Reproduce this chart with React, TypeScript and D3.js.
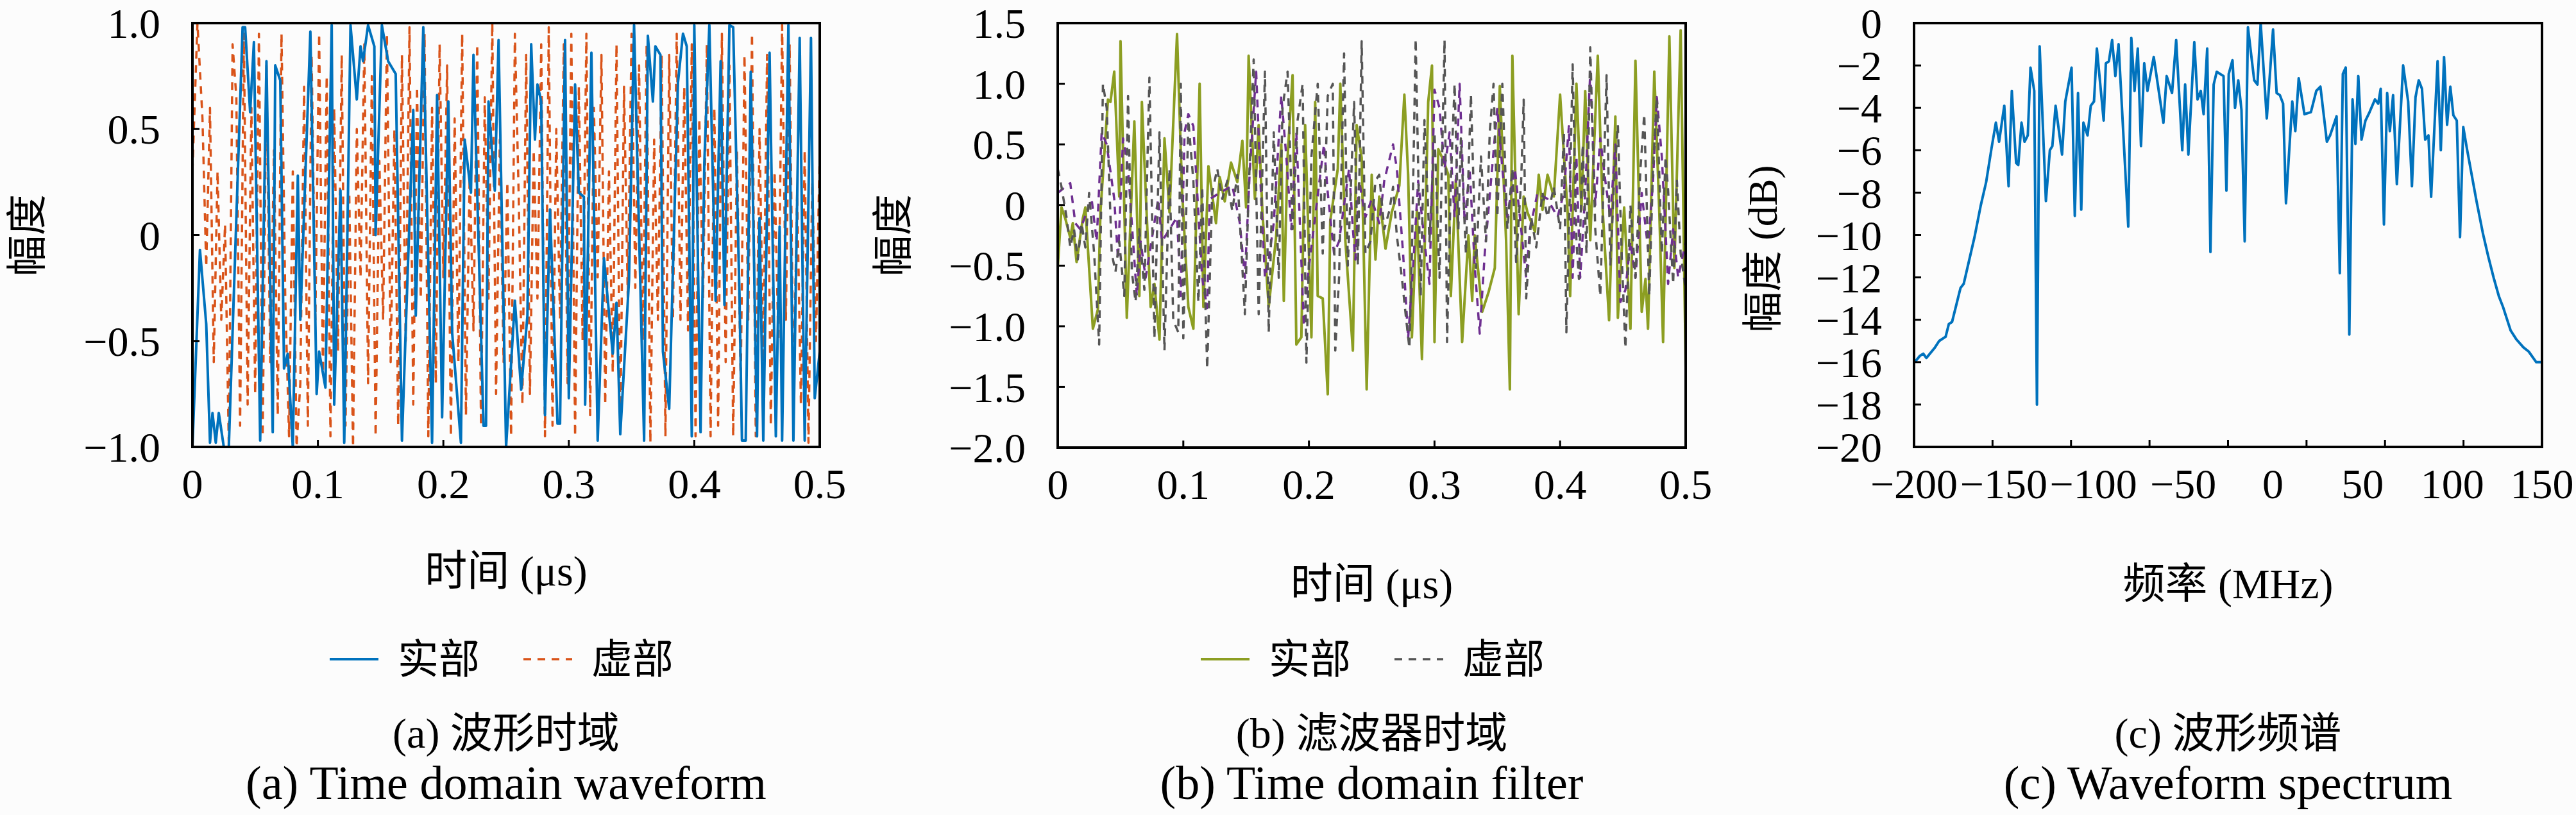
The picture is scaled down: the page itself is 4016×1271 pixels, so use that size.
import * as d3 from 'd3';

type Pt = [number, number];

// (a) 波形时域: time (μs), amplitude
const waveReal: Pt[] = [
  [0, -1.0], [0.006, -0.07], [0.011, -0.42], [0.014, -0.98], [0.016, -0.84], [0.0186, -0.98], [0.021, -0.84],
  [0.025, -1.0], [0.029, -1.0], [0.04, 0.98], [0.042, 0.98], [0.046, 0.58], [0.049, 0.91], [0.054, -0.97],
  [0.059, 0.82], [0.064, -0.93], [0.066, 0.8], [0.07, 0.73], [0.073, -0.63], [0.076, -0.56], [0.08, -1.0],
  [0.084, 0.28], [0.086, -0.4], [0.094, 0.96], [0.099, -0.75], [0.101, -0.55], [0.106, -0.72], [0.111, 0.99],
  [0.113, -0.8], [0.118, 0.21], [0.121, -0.98], [0.126, 0.99], [0.131, 0.64], [0.134, 0.89], [0.136, 0.82],
  [0.14, 0.99], [0.145, 0.89], [0.146, 0.0], [0.151, 0.99], [0.156, 0.82], [0.162, 0.76], [0.167, -0.97],
  [0.176, 0.59], [0.178, -0.38], [0.184, 0.98], [0.191, -0.98], [0.195, 0.66], [0.199, -0.86], [0.204, 0.63],
  [0.207, -0.46], [0.214, -0.98], [0.217, 0.45], [0.222, 0.2], [0.224, 0.85], [0.232, -0.9], [0.234, -0.9],
  [0.236, 0.63], [0.241, 0.21], [0.244, 0.92], [0.25, -1.0], [0.257, -0.31], [0.262, -0.73], [0.267, -0.38],
  [0.27, 0.9], [0.273, 0.45], [0.275, 0.71], [0.278, 0.63], [0.281, -0.85], [0.285, 0.12], [0.291, -0.89],
  [0.293, -0.89], [0.297, 0.92], [0.3, -0.77], [0.305, 0.71], [0.308, 0.2], [0.312, 0.18], [0.313, -0.8],
  [0.318, 0.86], [0.323, -0.97], [0.328, -0.11], [0.335, -0.56], [0.338, -0.32], [0.341, -0.94], [0.348, -0.21],
  [0.352, 0.99], [0.36, -0.97], [0.363, 0.94], [0.367, 0.63], [0.369, 0.89], [0.373, 0.85], [0.375, -0.55],
  [0.38, -0.82], [0.387, 0.72], [0.391, 0.95], [0.394, 0.89], [0.398, -0.95], [0.4, 0.99], [0.405, -0.93],
  [0.408, 0.34], [0.412, 0.99], [0.417, -0.31], [0.421, 0.82], [0.424, -0.33], [0.428, 0.99], [0.431, 0.98],
  [0.436, -0.28], [0.438, -0.97], [0.441, -0.97], [0.445, 0.77], [0.45, -0.95], [0.452, 0.08], [0.455, -0.97],
  [0.46, 0.86], [0.465, -0.95], [0.468, 0.04], [0.47, -0.97], [0.475, 0.99], [0.479, -0.97], [0.484, 0.93],
  [0.488, -0.97], [0.493, 0.93], [0.496, -0.77], [0.5, -0.55],
];

const waveImag: Pt[] = [
  [0, 0.3], [0.004, 1.0], [0.008, 0.55], [0.011, -0.15], [0.014, 0.6], [0.017, -0.6], [0.02, 0.3], [0.023, -0.4],
  [0.026, 0.05], [0.029, -1.0], [0.032, 0.9], [0.035, 0.65], [0.038, -0.9], [0.041, 0.95], [0.044, -0.8],
  [0.047, 0.6], [0.05, -0.75], [0.053, 0.95], [0.056, -0.95], [0.059, 0.8], [0.062, -0.6], [0.065, 0.4],
  [0.068, -0.85], [0.071, 0.95], [0.074, -0.3], [0.077, -0.95], [0.08, 0.3], [0.083, -1.0], [0.086, -0.7],
  [0.089, 0.7], [0.092, -0.9], [0.095, 0.85], [0.098, -0.4], [0.101, 0.95], [0.104, -0.65], [0.107, 0.75],
  [0.11, -0.95], [0.113, 0.6], [0.116, -0.55], [0.119, 0.85], [0.122, -0.9], [0.125, 0.2], [0.128, -1.0],
  [0.131, 0.5], [0.134, -0.2], [0.137, 0.9], [0.14, -0.7], [0.143, 0.75], [0.146, -0.95], [0.149, 0.35],
  [0.152, -0.4], [0.155, 0.95], [0.158, -0.6], [0.161, 0.5], [0.164, -0.9], [0.167, 0.85], [0.17, -0.5],
  [0.173, 0.98], [0.176, -0.8], [0.179, 0.7], [0.182, -0.3], [0.185, 0.95], [0.188, -0.95], [0.191, 0.6],
  [0.194, -0.7], [0.197, 0.9], [0.2, -0.2], [0.203, 0.8], [0.206, -0.95], [0.209, 0.55], [0.212, -0.6],
  [0.215, 0.95], [0.218, -0.85], [0.221, 0.3], [0.224, -0.45], [0.227, 0.9], [0.23, -0.9], [0.233, 0.65],
  [0.236, -0.3], [0.239, 1.0], [0.242, -0.75], [0.245, 0.45], [0.248, -0.6], [0.251, 0.25], [0.254, -0.95],
  [0.257, 0.95], [0.26, 0.2], [0.263, -0.8], [0.266, 0.85], [0.269, -0.75], [0.272, 0.4], [0.275, -0.3],
  [0.278, 0.9], [0.281, -0.95], [0.284, 0.98], [0.287, -0.9], [0.29, 0.5], [0.293, -0.4], [0.296, 0.9],
  [0.299, -0.7], [0.302, 0.95], [0.305, -0.95], [0.308, 0.7], [0.311, -0.5], [0.314, 0.95], [0.317, -0.85],
  [0.32, 0.6], [0.323, -0.2], [0.326, 0.85], [0.329, -0.8], [0.332, 0.3], [0.335, -0.65], [0.338, 0.9],
  [0.341, -0.95], [0.344, 0.7], [0.347, -0.3], [0.35, 0.95], [0.353, -0.25], [0.356, 0.8], [0.359, -0.5],
  [0.362, 0.9], [0.365, -0.98], [0.368, 0.45], [0.371, -0.4], [0.374, 0.85], [0.377, -0.95], [0.38, 0.85],
  [0.383, -0.4], [0.386, 0.95], [0.389, -0.4], [0.392, 0.7], [0.395, -0.45], [0.398, 0.9], [0.401, -0.95],
  [0.404, 0.55], [0.407, -0.3], [0.41, 0.9], [0.413, -0.95], [0.416, 0.6], [0.419, -0.9], [0.422, 0.95],
  [0.425, -0.6], [0.428, 0.8], [0.431, -0.95], [0.434, 0.4], [0.437, -0.7], [0.44, 0.85], [0.443, -0.4],
  [0.446, 0.95], [0.449, -0.95], [0.452, 0.5], [0.455, -0.6], [0.458, 0.85], [0.461, -0.9], [0.464, 0.3],
  [0.467, -0.5], [0.47, 0.99], [0.473, -0.4], [0.476, 0.9], [0.479, -0.75], [0.482, 0.2], [0.485, -0.8],
  [0.488, 0.4], [0.491, -0.98], [0.494, 0.25], [0.497, -0.5], [0.5, 0.4],
];

// (b) 滤波器时域
const filterReal: Pt[] = [
  [0, -0.52], [0.003, -0.02], [0.006, -0.11], [0.01, -0.27], [0.012, -0.15], [0.015, -0.47], [0.02, -0.11],
  [0.022, -0.02], [0.028, -1.02], [0.032, -0.86], [0.034, -0.06], [0.04, 0.87], [0.042, 0.85], [0.045, 1.1],
  [0.049, 0.07], [0.05, 1.35], [0.055, -0.93], [0.061, 0.69], [0.065, -0.75], [0.067, 0.85], [0.074, -0.84],
  [0.077, -0.65], [0.081, -1.11], [0.085, 0.55], [0.089, -0.06], [0.095, 1.41], [0.099, 0.12], [0.104, -0.84],
  [0.108, -1.02], [0.113, 1.0], [0.116, -0.84], [0.12, 0.32], [0.126, -0.15], [0.129, 0.23], [0.133, 0.03],
  [0.138, 0.35], [0.143, 0.19], [0.147, 0.53], [0.15, -0.02], [0.152, 1.23], [0.157, 0.05], [0.16, 0.66],
  [0.163, -0.06], [0.168, -0.84], [0.174, -0.25], [0.178, 0.5], [0.18, -0.79], [0.183, 0.39], [0.187, 1.07],
  [0.19, -1.15], [0.194, -1.09], [0.197, 0.66], [0.202, -1.09], [0.205, 0.85], [0.207, -0.75], [0.211, -0.77],
  [0.215, -1.56], [0.217, -0.13], [0.223, 0.3], [0.225, 1.0], [0.229, -0.29], [0.235, -1.2], [0.238, 0.66],
  [0.242, 0.39], [0.246, -1.52], [0.25, 0.25], [0.253, -0.45], [0.256, 0.07], [0.261, -0.36], [0.266, -0.06],
  [0.272, 0.16], [0.276, 0.91], [0.279, 0.25], [0.282, -1.09], [0.286, -0.04], [0.29, -1.27], [0.295, 0.85],
  [0.298, 1.15], [0.3, -1.13], [0.303, 0.46], [0.307, 0.37], [0.311, 0.25], [0.313, -0.75], [0.317, 0.21],
  [0.322, -1.13], [0.327, -0.25], [0.33, -0.79], [0.332, -0.25], [0.338, -0.88], [0.343, -0.72], [0.348, -0.52],
  [0.352, 0.98], [0.357, -0.29], [0.36, -1.52], [0.362, 1.23], [0.367, -0.9], [0.371, 0.07], [0.374, -0.06],
  [0.38, -0.22], [0.383, 0.25], [0.386, -0.04], [0.39, 0.25], [0.395, 0.07], [0.4, 0.91], [0.406, -0.06],
  [0.408, -0.75], [0.413, 1.0], [0.417, -0.04], [0.42, 0.94], [0.424, -0.29], [0.43, 1.23], [0.434, -0.06],
  [0.439, -0.95], [0.444, 0.73], [0.446, -0.93], [0.451, -0.02], [0.456, -1.02], [0.46, 1.19], [0.465, -0.88],
  [0.468, -0.61], [0.47, -1.02], [0.475, 1.1], [0.479, -0.06], [0.482, -1.13], [0.487, 1.39], [0.491, -0.52],
  [0.496, 1.44], [0.5, -1.34],
];

const filterImag: Pt[] = [
  [0, 0.3], [0.003, 0.15], [0.007, -0.1], [0.01, -0.35], [0.013, -0.2], [0.016, -0.45], [0.019, -0.15],
  [0.022, -0.35], [0.025, 0.1], [0.029, -0.4], [0.033, -1.15], [0.036, 1.0], [0.039, 0.8], [0.043, -0.4],
  [0.046, -0.55], [0.049, -0.3], [0.053, -0.75], [0.056, 0.9], [0.059, -0.55], [0.062, -0.8], [0.065, -0.2],
  [0.069, -0.7], [0.073, 1.05], [0.077, -1.1], [0.081, 0.6], [0.085, -1.2], [0.089, 0.3], [0.092, -0.95],
  [0.096, -1.05], [0.098, 1.0], [0.1, -1.1], [0.104, 0.7], [0.108, 0.2], [0.112, -0.8], [0.115, 0.15],
  [0.119, -1.35], [0.123, 0.1], [0.127, 0.3], [0.131, 0.05], [0.135, 0.2], [0.139, -0.05], [0.143, 0.25],
  [0.149, -0.9], [0.152, 0.1], [0.156, 1.2], [0.16, -0.9], [0.165, 1.1], [0.168, -1.05], [0.172, 0.6],
  [0.176, -0.6], [0.179, 0.8], [0.183, 1.1], [0.187, -0.2], [0.191, 0.7], [0.195, 1.0], [0.198, -1.3],
  [0.202, 0.4], [0.207, 1.0], [0.211, -0.4], [0.215, 0.9], [0.219, 1.0], [0.221, -1.2], [0.224, -0.6],
  [0.228, 1.25], [0.231, -0.5], [0.236, 0.85], [0.239, -0.5], [0.242, 1.35], [0.245, -0.4], [0.249, -0.3],
  [0.253, 0.2], [0.256, 0.25], [0.26, -0.2], [0.264, -0.05], [0.267, 0.15], [0.27, -0.25], [0.274, -0.6],
  [0.277, -0.9], [0.28, -1.18], [0.282, -0.4], [0.285, 1.37], [0.289, -0.75], [0.292, 0.7], [0.296, -0.3],
  [0.3, 0.6], [0.304, -0.6], [0.308, 1.36], [0.31, -1.13], [0.313, 0.2], [0.316, 1.0], [0.319, -0.2],
  [0.321, 0.55], [0.325, -0.4], [0.329, 0.91], [0.333, -0.52], [0.337, 0.4], [0.341, -0.3], [0.344, 0.6],
  [0.347, 1.0], [0.35, -0.1], [0.354, 1.0], [0.358, -0.2], [0.362, 0.3], [0.365, -0.47], [0.369, 0.2],
  [0.371, 0.87], [0.373, -0.77], [0.377, -0.1], [0.381, -0.35], [0.386, 0.1], [0.39, -0.1], [0.395, 0.15],
  [0.4, -0.2], [0.403, 0.6], [0.405, -1.05], [0.408, 0.2], [0.41, 1.16], [0.413, -0.3], [0.415, -0.61],
  [0.418, 0.5], [0.421, -0.4], [0.424, 1.3], [0.428, -0.2], [0.432, -0.75], [0.437, 1.07], [0.44, -0.5],
  [0.443, 0.2], [0.446, 0.66], [0.449, -0.4], [0.452, -1.18], [0.456, 0.0], [0.46, -0.6], [0.464, 0.3],
  [0.467, 0.75], [0.471, -0.75], [0.474, 0.3], [0.477, 0.89], [0.481, -0.4], [0.484, 0.4], [0.486, 0.12],
  [0.49, -0.65], [0.493, 0.2], [0.496, -0.4], [0.5, -0.7],
];

const filterImagB: Pt[] = [
  [0, 0.1], [0.01, 0.18], [0.014, -0.15], [0.018, -0.2], [0.027, 0.05], [0.031, -0.3], [0.035, 0.6],
  [0.039, 0.5], [0.045, 0.05], [0.048, -0.45], [0.052, 0.55], [0.056, 0.3], [0.063, -0.75], [0.066, -0.3],
  [0.07, -0.6], [0.08, 0.05], [0.083, -0.3], [0.095, -0.1], [0.098, -0.75], [0.101, 0.6], [0.104, 0.75],
  [0.108, 0.65], [0.115, -0.6], [0.119, -0.85], [0.121, 0.05], [0.139, 0.16], [0.145, -0.15], [0.149, -0.6],
  [0.153, 0.3], [0.158, 1.1], [0.162, 0.05], [0.165, -0.6], [0.168, -0.45], [0.172, -0.15], [0.178, 0.9],
  [0.182, 0.4], [0.186, -0.2], [0.19, 0.6], [0.196, -1.0], [0.199, -0.6], [0.212, 0.5], [0.215, 0.1],
  [0.22, -0.4], [0.224, -0.3], [0.232, 0.3], [0.235, -0.2], [0.237, -0.45], [0.24, 0.2], [0.245, -0.1],
  [0.25, 0.05], [0.256, -0.15], [0.26, 0.2], [0.267, 0.5], [0.27, 0.3], [0.275, -0.4], [0.279, -1.1],
  [0.283, -0.5], [0.287, 0.2], [0.292, -0.3], [0.296, -0.65], [0.3, 0.95], [0.304, 0.8], [0.308, 0.3],
  [0.312, 0.6], [0.316, -0.1], [0.32, 1.0], [0.324, -0.15], [0.328, 0.3], [0.332, -0.5], [0.336, -1.06],
  [0.34, -0.4], [0.345, 0.2], [0.35, 0.8], [0.354, 0.3], [0.358, -0.1], [0.364, 0.3], [0.369, -0.2],
  [0.373, -0.6], [0.376, -0.2], [0.382, 0.1], [0.39, 0.05], [0.398, -0.1], [0.403, 0.1], [0.407, 0.65],
  [0.41, -0.6], [0.413, 0.4], [0.416, -0.6], [0.42, 0.1], [0.424, 1.1], [0.428, 0.0], [0.432, 0.55],
  [0.436, 0.2], [0.44, -0.1], [0.444, 0.5], [0.448, -0.8], [0.452, -0.7], [0.456, -0.3], [0.46, -0.6],
  [0.465, 0.1], [0.47, -0.36], [0.474, 0.2], [0.477, 0.89], [0.481, 0.4], [0.486, -0.65], [0.49, -0.2],
  [0.494, -0.6], [0.5, -0.3],
];

// (c) 波形频谱: frequency (MHz), dB
const spectrum: Pt[] = [
  [-199.6, -16.0], [-196.7, -15.7], [-194.9, -15.6], [-193.1, -15.8], [-188.3, -15.3], [-186.0, -15.0],
  [-182.4, -14.8], [-180.6, -14.2], [-178.8, -14.1], [-174.1, -12.5], [-172.3, -12.3], [-166.3, -10.1],
  [-162.8, -8.6], [-159.8, -7.5], [-156.8, -5.9], [-154.4, -4.7], [-152.6, -5.6], [-149.7, -3.9],
  [-147.3, -7.7], [-145.5, -3.2], [-143.1, -6.6], [-141.9, -6.7], [-140.1, -4.7], [-138.4, -5.6],
  [-136.6, -5.3], [-135.1, -2.1], [-133.0, -3.2], [-131.5, -18.0], [-130.0, -1.1], [-126.5, -8.4],
  [-124.3, -6.0], [-122.9, -5.8], [-121.1, -3.9], [-117.5, -6.2], [-115.7, -3.7], [-112.2, -2.1],
  [-110.4, -9.1], [-108.6, -3.3], [-106.8, -8.8], [-105.6, -4.7], [-103.3, -5.3], [-101.5, -3.9],
  [-99.7, -3.7], [-98.1, -1.2], [-94.3, -4.6], [-93.1, -1.9], [-91.4, -1.8], [-89.6, -0.8], [-87.8, -2.5],
  [-86.0, -1.0], [-80.6, -9.6], [-78.9, -0.7], [-77.1, -3.2], [-75.3, -1.2], [-73.5, -5.8], [-71.7, -1.9],
  [-69.9, -3.2], [-66.4, -1.6], [-61.0, -4.7], [-59.2, -2.5], [-56.2, -3.3], [-53.9, -0.8], [-50.5, -6.0],
  [-48.9, -2.9], [-47.1, -6.2], [-43.8, -0.9], [-42.0, -3.6], [-40.2, -3.2], [-38.6, -4.3], [-36.6, -1.2],
  [-34.8, -10.8], [-33.0, -2.9], [-31.3, -2.3], [-27.5, -2.5], [-25.9, -7.9], [-24.6, -2.4], [-22.5, -1.75],
  [-21.1, -4.0], [-19.3, -2.7], [-17.5, -4.1], [-15.7, -10.3], [-13.9, -0.2], [-10.4, -2.7], [-8.6, -2.9],
  [-6.8, 0.0], [-3.4, -4.5], [0.1, -0.3], [2.1, -3.3], [3.9, -3.4], [5.7, -3.8], [7.3, -8.5], [10.8, -3.7],
  [12.5, -5.1], [14.4, -2.6], [17.6, -4.3], [21.2, -4.2], [24.2, -3.2], [26.5, -3.0], [30.1, -5.6],
  [31.9, -5.3], [35.5, -4.4], [37.3, -11.8], [39.0, -2.4], [40.6, -2.1], [42.6, -14.7], [44.4, -3.6],
  [46.0, -5.7], [47.6, -2.5], [49.4, -5.5], [51.6, -4.6], [53.9, -4.2], [56.9, -3.6], [58.7, -3.8],
  [60.1, -3.1], [61.9, -9.5], [63.7, -3.3], [65.2, -5.1], [67.0, -3.4], [69.1, -7.6], [72.6, -2.0],
  [75.4, -3.7], [77.5, -7.7], [79.5, -3.5], [81.3, -2.7], [83.1, -3.1], [84.9, -5.5], [86.7, -5.3],
  [88.2, -8.2], [91.8, -1.8], [93.6, -6.0], [95.4, -1.6], [97.1, -4.8], [98.9, -3.0], [100.6, -4.35],
  [102.5, -4.6], [104.3, -10.1], [106.1, -4.9], [108.1, -5.9], [113.5, -8.4], [117.0, -9.9], [120.0, -11.0],
  [123.0, -12.0], [126.0, -12.9], [128.3, -13.4], [132.5, -14.5], [135.5, -14.9], [139.6, -15.3],
  [142.6, -15.5], [146.8, -16.0], [149.8, -16.0],
];

const timeTicks = [0, 0.1, 0.2, 0.3, 0.4, 0.5];
const waveTicks = [-1, -0.5, 0, 0.5, 1];
const filterTicks = [-2, -1.5, -1, -0.5, 0, 0.5, 1, 1.5];
const dbTicks = [-20, -18, -16, -14, -12, -10, -8, -6, -4, -2, 0];
const freqLabels = [-200, -150, -100, -50, 0, 50, 100, 150];

const SERIF = "'Liberation Serif', 'DejaVu Serif', serif";
const MIXED = "'Liberation Serif', 'Noto Sans CJK SC', serif";

const fmt1 = (v: number) => (v === 0 ? '0' : d3.format('.1f')(v));
const fmt0 = (v: number) => d3.format('d')(v);

type Series = { data: Pt[]; color: string; width: number; dash?: string };
type LegendItem = { label: string; color: string; width: number; dash?: string };

type PanelProps = {
  id: string;
  left: number;
  right: number;
  top: number;
  bottom: number;
  xDomain: [number, number];
  yDomain: [number, number];
  xTicks: number[];
  yTicks: number[];
  fmtX: (v: number) => string;
  fmtY: (v: number) => string;
  markIntervals?: number;
  series: Series[];
  yLabel: string;
  yLabelX: number;
  yLabelY: number;
  xLabel: string;
  xLabelY: number;
  legend?: LegendItem[];
  legendX?: number;
  captionCn: string;
  captionEn: string;
};

const Panel = (p: PanelProps) => {
  const x = d3.scaleLinear().domain(p.xDomain).range([p.left, p.right]);
  const y = d3.scaleLinear().domain(p.yDomain).range([p.bottom, p.top]);
  const line = d3.line<Pt>().x(d => x(d[0])).y(d => y(d[1]));
  // tick marks of panel (c) do not sit under its labels
  const markScale = d3.scaleLinear().domain([0, p.markIntervals || 1]).range([p.left, p.right]);
  const marks = p.markIntervals ? d3.range(1, p.markIntervals).map(markScale) : p.xTicks.map(x);
  const cx = (p.left + p.right) / 2;

  return (
    <g>
      <defs>
        <clipPath id={p.id}>
          <rect x={p.left} y={p.top} width={p.right - p.left} height={p.bottom - p.top} />
        </clipPath>
      </defs>
      <g clipPath={`url(#${p.id})`}>
        {p.series.map((s, i) => (
          <path key={i} d={line(s.data)!} fill="none" stroke={s.color} strokeWidth={s.width}
            strokeDasharray={s.dash} strokeLinejoin="round" />
        ))}
      </g>
      {marks.map((m, i) => (
        <line key={'xm' + i} x1={m} x2={m} y1={p.bottom} y2={p.bottom - 11} stroke="#000" strokeWidth={3} />
      ))}
      {p.yTicks.map((v, i) => (
        <line key={'ym' + i} x1={p.left} x2={p.left + 11} y1={y(v)} y2={y(v)} stroke="#000" strokeWidth={3} />
      ))}
      <rect x={p.left} y={p.top} width={p.right - p.left} height={p.bottom - p.top}
        fill="none" stroke="#000" strokeWidth={4} />
      {p.xTicks.map((v, i) => (
        <text key={'xl' + i} x={x(v)} y={p.bottom + 80} textAnchor="middle" fontSize={66} fontFamily={SERIF}>
          {p.fmtX(v)}
        </text>
      ))}
      {p.yTicks.map((v, i) => (
        <text key={'yl' + i} x={p.left - 50} y={y(v)} dy="0.35em" textAnchor="end" fontSize={66} fontFamily={SERIF}>
          {p.fmtY(v)}
        </text>
      ))}
      <text transform={`translate(${p.yLabelX},${p.yLabelY}) rotate(-90)`} textAnchor="middle"
        dominantBaseline="central" fontSize={64} fontFamily={MIXED}>
        {p.yLabel}
      </text>
      <text x={cx} y={p.xLabelY} textAnchor="middle" dominantBaseline="central" fontSize={66} fontFamily={MIXED}>
        {p.xLabel}
      </text>
      {p.legend && p.legend.map((it, i) => {
        const lx = (p.legendX || 0) + i * 302;
        return (
          <g key={'lg' + i}>
            <line x1={lx} x2={lx + 76} y1={1028} y2={1028} stroke={it.color} strokeWidth={it.width}
              strokeDasharray={it.dash} />
            <text x={lx + 106} y={1028} dominantBaseline="central" fontSize={64} fontFamily={MIXED}>
              {it.label}
            </text>
          </g>
        );
      })}
      <text x={cx} y={1166} textAnchor="middle" fontSize={66} fontFamily={MIXED}>{p.captionCn}</text>
      <text x={cx} y={1246} textAnchor="middle" fontSize={74} fontFamily={SERIF}>{p.captionEn}</text>
    </g>
  );
};

const BLUE = '#0072BD';
const ORANGE = '#D95319';
const OLIVE = '#8C9E22';
const GRAY = '#555555';
const PURPLE = '#6E2F90';
const DASH = '12 10';

export default function App() {
  return (
    <svg width={4016} height={1271} style={{ position: 'absolute', left: 0, top: 0, background: '#fcfcfc' }}>
      <Panel
        id="clipA" left={300} right={1278} top={36} bottom={697}
        xDomain={[0, 0.5]} yDomain={[-1, 1]} xTicks={timeTicks} yTicks={waveTicks}
        fmtX={fmt1} fmtY={fmt1}
        series={[
          { data: waveImag, color: ORANGE, width: 3.5, dash: DASH },
          { data: waveReal, color: BLUE, width: 4 },
        ]}
        yLabel="幅度" yLabelX={42} yLabelY={367}
        xLabel="时间 (μs)" xLabelY={890}
        legend={[
          { label: '实部', color: BLUE, width: 4 },
          { label: '虚部', color: ORANGE, width: 3.5, dash: DASH },
        ]}
        legendX={514}
        captionCn="(a) 波形时域" captionEn="(a) Time domain waveform"
      />
      <Panel
        id="clipB" left={1649} right={2628} top={36} bottom={698}
        xDomain={[0, 0.5]} yDomain={[-2, 1.5]} xTicks={timeTicks} yTicks={filterTicks}
        fmtX={fmt1} fmtY={fmt1}
        series={[
          { data: filterReal, color: OLIVE, width: 4 },
          { data: filterImagB, color: PURPLE, width: 3.5, dash: DASH },
          { data: filterImag, color: GRAY, width: 3.5, dash: DASH },
        ]}
        yLabel="幅度" yLabelX={1392} yLabelY={367}
        xLabel="时间 (μs)" xLabelY={910}
        legend={[
          { label: '实部', color: OLIVE, width: 4 },
          { label: '虚部', color: GRAY, width: 3.5, dash: DASH },
        ]}
        legendX={1872}
        captionCn="(b) 滤波器时域" captionEn="(b) Time domain filter"
      />
      <Panel
        id="clipC" left={2984} right={3963} top={36} bottom={697}
        xDomain={[-200, 150]} yDomain={[-20, 0]} xTicks={freqLabels} yTicks={dbTicks}
        fmtX={fmt0} fmtY={fmt0} markIntervals={8}
        series={[{ data: spectrum, color: BLUE, width: 4 }]}
        yLabel="幅度 (dB)" yLabelX={2748} yLabelY={388}
        xLabel="频率 (MHz)" xLabelY={910}
        captionCn="(c) 波形频谱" captionEn="(c) Waveform spectrum"
      />
    </svg>
  );
}
